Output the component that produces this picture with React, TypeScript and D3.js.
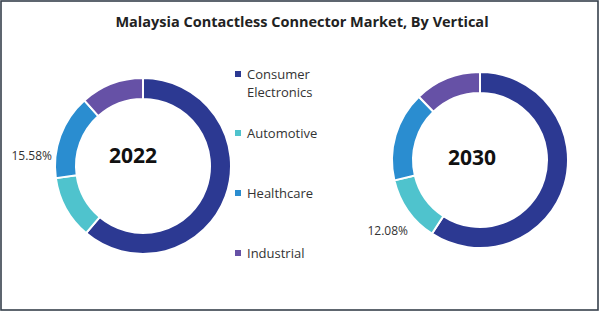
import React from "react";
import * as d3 from "d3";

const title = "Malaysia Contactless Connector Market, By Vertical";
const categories = ["Consumer Electronics", "Automotive", "Healthcare", "Industrial"];
const legendLines = [["Consumer", "Electronics"], ["Automotive"], ["Healthcare"], ["Industrial"]];
const colors = ["#2c3992", "#4fc3cd", "#2a8dd0", "#6651a6"];
const years = ["2022", "2030"];
const values2022 = [61.2, 11.6, 15.58, 11.62];
const values2030 = [59.2, 12.08, 16.5, 12.22];
const labels2022 = ["", "", "15.58%", ""];
const labels2030 = ["", "12.08%", "", ""];

const FONT = "'Open Sans', 'Liberation Sans', sans-serif";

function Donut({ cx, cy, values, yearLabel, tx, ty }: any) {
  const pie = d3.pie<number>().sort(null).value((d) => d);
  const arc = d3.arc<d3.PieArcDatum<number>>().innerRadius(67).outerRadius(88);
  const arcs = pie(values);
  return (
    <g transform={`translate(${cx},${cy})`}>
      {arcs.map((a, i) => (
        <path key={i} d={arc(a) || ""} fill={colors[i]} stroke="#ffffff" strokeWidth={2} />
      ))}
      <text x={tx} y={ty} textAnchor="middle" dominantBaseline="central" fontFamily={FONT} fontWeight={700} fontSize={21} fill="#111">
        {yearLabel}
      </text>
    </g>
  );
}

export default function App() {
  const legendY = [74, 133, 193, 253];
  return (
    <div style={{ position: "fixed", left: 0, top: 0 }}>
      <svg width={600} height={312} viewBox="0 0 600 312">
        <rect x={0} y={0} width={600} height={312} fill="#ffffff" />
        <rect x={1} y={1} width={597} height={309} fill="none" stroke="#36404c" strokeWidth={1.6} />
        <text x={302} y={21} textAnchor="middle" dominantBaseline="central" fontFamily={FONT} fontWeight={700} fontSize={14.5} fill="#222">
          {title}
        </text>
        <Donut cx={143} cy={166} values={values2022} yearLabel={years[0]} tx={-10} ty={-11} />
        <Donut cx={480} cy={160} values={values2030} yearLabel={years[1]} tx={-8} ty={-3} />
        <text x={52} y={155} textAnchor="end" dominantBaseline="central" fontFamily={FONT} fontSize={12} fill="#333">
          {labels2022[2]}
        </text>
        <text x={408} y={230} textAnchor="end" dominantBaseline="central" fontFamily={FONT} fontSize={12} fill="#333">
          {labels2030[1]}
        </text>
        {categories.map((c, i) => (
          <g key={c}>
            <rect x={235} y={legendY[i] - 3} width={6} height={6} fill={colors[i]} />
            {legendLines[i].map((line, j) => (
              <text key={j} x={247} y={legendY[i] + j * 18} dominantBaseline="central" fontFamily={FONT} fontSize={13} fill="#333">
                {line}
              </text>
            ))}
          </g>
        ))}
      </svg>
    </div>
  );
}
